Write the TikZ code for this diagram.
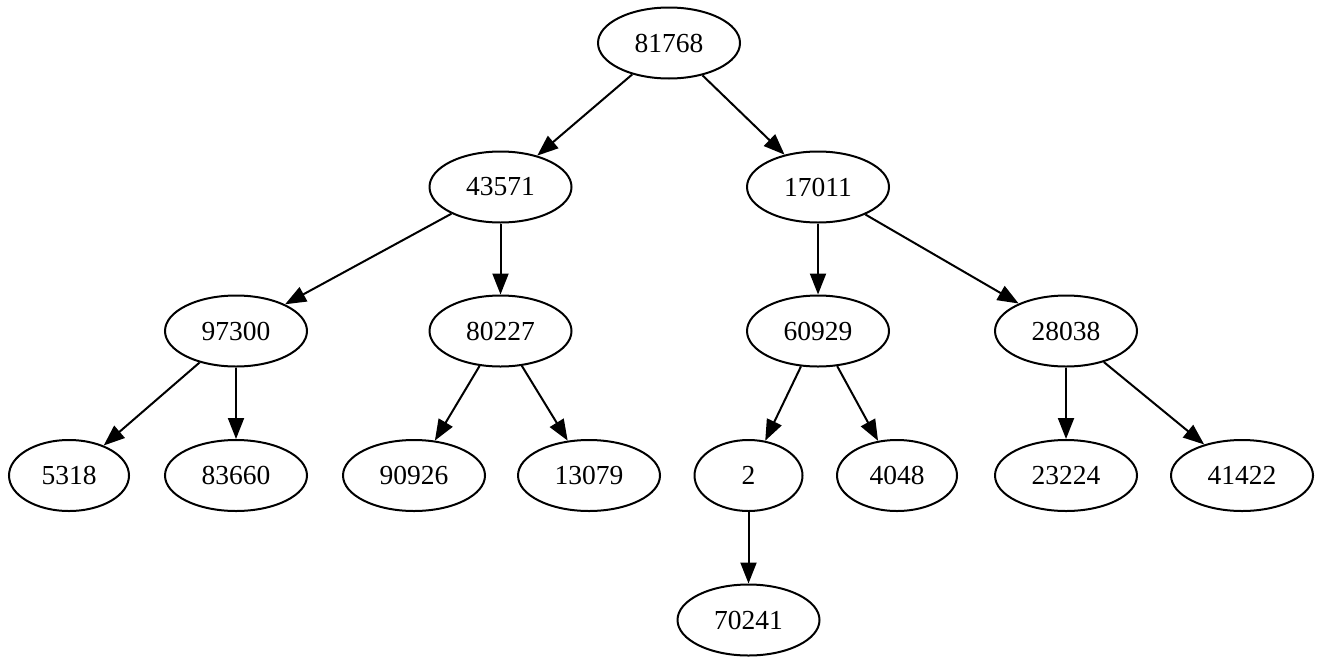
\documentclass[tikz,border=0pt]{standalone}
\usepackage{fontspec}
\setmainfont{Liberation Serif}
\usetikzlibrary{shapes.geometric,arrows.meta}
\begin{document}
\begin{tikzpicture}[x=1pt,y=-1pt,
  vtx/.style={ellipse,draw,line width=2pt,inner sep=0pt,minimum height=71pt,
    font=\fontsize{27.5}{30}\selectfont},
  w5/.style={vtx,minimum width=142pt},
  w4/.style={vtx,minimum width=120pt},
  w1/.style={vtx,minimum width=108pt},
  edge/.style={line width=2pt,-{Triangle[length=21pt,width=16pt]}}]
\useasboundingbox (0,0) rectangle (1321,664);
% level 0
\node[w5] (n81768) at (669,43) {81768};
% level 1
\node[w5] (n43571) at (500.5,187) {43571};
\node[w5] (n17011) at (818,187) {17011};
% level 2
\node[w5] (n97300) at (236,331) {97300};
\node[w5] (n80227) at (500.5,331) {80227};
\node[w5] (n60929) at (818,331) {60929};
\node[w5] (n28038) at (1066,331) {28038};
% level 3
\node[w4] (n5318)  at (69,475.5) {5318};
\node[w5] (n83660) at (236,475.5) {83660};
\node[w5] (n90926) at (414,475.5) {90926};
\node[w5] (n13079) at (589,475.5) {13079};
\node[w1] (n2)     at (748.5,475.5) {2};
\node[w4] (n4048)  at (897,475.5) {4048};
\node[w5] (n23224) at (1066,475.5) {23224};
\node[w5] (n41422) at (1242,475.5) {41422};
% level 4
\node[w5] (n70241) at (748.5,620) {70241};
% edges
\draw[edge] (n81768) -- (n43571);
\draw[edge] (n81768) -- (n17011);
\draw[edge] (n43571) -- (n97300);
\draw[edge] (n43571) -- (n80227);
\draw[edge] (n17011) -- (n60929);
\draw[edge] (n17011) -- (n28038);
\draw[edge] (n97300) -- (n5318);
\draw[edge] (n97300) -- (n83660);
\draw[edge] (n80227) -- (n90926);
\draw[edge] (n80227) -- (n13079);
\draw[edge] (n60929) -- (n2);
\draw[edge] (n60929) -- (n4048);
\draw[edge] (n28038) -- (n23224);
\draw[edge] (n28038) -- (n41422);
\draw[edge] (n2) -- (n70241);
\end{tikzpicture}
\end{document}
